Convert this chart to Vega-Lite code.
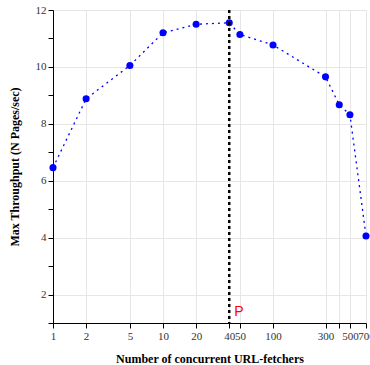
{
  "$schema": "https://vega.github.io/schema/vega-lite/v6.json",
  "autosize": "none",
  "padding": {"left": 53, "top": 10, "right": 4, "bottom": 42},
  "width": 313,
  "height": 313,
  "background": "white",
  "config": {
    "view": {"stroke": null},
    "font": "Liberation Serif",
    "axis": {
      "labelFont": "Liberation Serif",
      "titleFont": "Liberation Serif",
      "labelFontSize": 11,
      "titleFontSize": 12,
      "titleFontWeight": "bold",
      "domainColor": "black",
      "tickColor": "black",
      "labelColor": "#333",
      "titleColor": "black",
      "gridColor": "#e6e6e6"
    }
  },
  "datasets": {
    "pts": [
      {"n": 1, "t": 6.46},
      {"n": 2, "t": 8.88},
      {"n": 5, "t": 10.05},
      {"n": 10, "t": 11.2},
      {"n": 20, "t": 11.5},
      {"n": 40, "t": 11.55},
      {"n": 50, "t": 11.14},
      {"n": 100, "t": 10.77},
      {"n": 300, "t": 9.65},
      {"n": 400, "t": 8.67},
      {"n": 500, "t": 8.32},
      {"n": 700, "t": 4.06}
    ],
    "rule": [{"n": 40}],
    "lab": [{"n": 49, "t": 1.38, "txt": "P"}]
  },
  "encoding": {
    "x": {
      "field": "n", "type": "quantitative",
      "scale": {"type": "log", "domain": [1, 700], "nice": false},
      "axis": {
        "title": "Number of concurrent URL-fetchers",
        "values": [1, 2, 5, 10, 20, 40, 50, 100, 300, 400, 500, 700],
        "labelExpr": "datum.value == 400 ? '' : datum.label",
        "format": "d",
        "labelOverlap": false,
        "labelFlush": false,
        "labelBound": false,
        "titlePadding": 12
      }
    },
    "y": {
      "field": "t", "type": "quantitative",
      "scale": {"domain": [1, 12], "nice": false, "zero": false},
      "axis": {
        "title": "Max Throughput (N Pages/sec)",
        "values": [1, 2, 3, 4, 5, 6, 7, 8, 9, 10, 11, 12],
        "format": "d",
        "labelExpr": "datum.value % 2 == 0 ? datum.label : ''",
        "labelOverlap": false,
        "gridColor": {"condition": {"test": "datum.value % 2 == 0", "value": "#e6e6e6"}, "value": "transparent"},
        "titlePadding": 14
      }
    }
  },
  "layer": [
    {
      "data": {"name": "pts"},
      "mark": {"type": "line", "color": "blue", "strokeDash": [2, 4], "strokeWidth": 1.3}
    },
    {
      "data": {"name": "pts"},
      "mark": {"type": "point", "filled": true, "color": "blue", "size": 50, "opacity": 1}
    },
    {
      "data": {"name": "rule"},
      "mark": {"type": "rule", "color": "black", "strokeDash": [3, 3], "strokeWidth": 2.5},
      "encoding": {"y": null}
    },
    {
      "data": {"name": "lab"},
      "mark": {"type": "text", "color": "red", "font": "Liberation Sans", "fontSize": 14, "align": "center", "baseline": "middle"},
      "encoding": {"text": {"field": "txt"}}
    }
  ]
}
